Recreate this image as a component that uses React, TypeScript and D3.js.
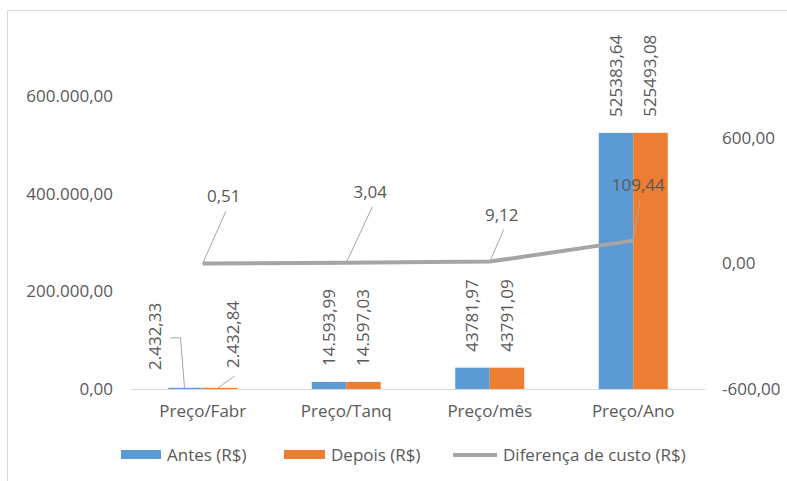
import React from "react";
import * as d3 from "d3";

const categories = ["Preço/Fabr", "Preço/Tanq", "Preço/mês", "Preço/Ano"];
const antes = [2432.33, 14593.99, 43781.97, 525383.64];
const depois = [2432.84, 14597.03, 43791.09, 525493.08];
const diferenca = [0.51, 3.04, 9.12, 109.44];
const antesLabels = ["2.432,33", "14.593,99", "43781,97", "525383,64"];
const depoisLabels = ["2.432,84", "14.597,03", "43791,09", "525493,08"];
const difLabels = ["0,51", "3,04", "9,12", "109,44"];
const leftTicks = [0, 200000, 400000, 600000];
const leftTickLabels = ["0,00", "200.000,00", "400.000,00", "600.000,00"];
const rightTicks = [-600, 0, 600];
const rightTickLabels = ["-600,00", "0,00", "600,00"];
const seriesNames = ["Antes (R$)", "Depois (R$)", "Diferença de custo (R$)"];

const W = 787;
const H = 481;
const BLUE = "#5B9BD5";
const ORANGE = "#ED7D31";
const GRAY = "#A5A5A5";
const TXT = "#595959";
const FONT = "'Open Sans', sans-serif";
const FS = 17;

// label offsets (layout) for line labels relative to point: [dx, dy baseline]
const difLabelOffsets = [
  [21, -61],
  [24, -65],
  [12, -41],
  [5, -50],
];

export default function App() {
  const x = d3.scaleBand<string>().domain(categories).range([131, 705]).paddingInner(0).paddingOuter(0);
  const yL = d3.scaleLinear().domain([0, 600000]).range([389, 96.5]);
  const yR = d3.scaleLinear().domain([-600, 600]).range([389, 138]);
  const bw = 34.5;
  const sub = d3.scaleBand<number>().domain([0, 1]).range([-bw, bw]).padding(0);
  const cx = (c: string) => (x(c) as number) + x.bandwidth() / 2;

  const line = d3
    .line<number>()
    .x((_, i) => cx(categories[i]))
    .y((d) => yR(d));

  const barLabel = (i: number, s: number, label: string, val: number) => {
    const bx = cx(categories[i]) + (sub(s) as number) + sub.bandwidth() / 2;
    const top = yL(val);
    if (i === 0) {
      // displaced labels with leader lines
      const lx = s === 0 ? bx - 30 : bx + 13;
      const ly = s === 0 ? 370 : 368;
      const leader =
        s === 0
          ? `M${bx - 15},${top - 50} L${bx - 5},${top - 50} L${bx - 1},${top}`
          : `M${bx + 15},${top - 12} L${bx - 2},${top}`;
      return (
        <g key={`bl-${i}-${s}`}>
          <path d={leader} fill="none" stroke="#a6a6a6" strokeWidth={1} />
          <text
            transform={`translate(${lx},${ly}) rotate(-90)`}
            dy="0.35em"
            fill={TXT}
            fontSize={FS}
            fontFamily={FONT}
          >
            {label}
          </text>
        </g>
      );
    }
    return (
      <text
        key={`bl-${i}-${s}`}
        transform={`translate(${bx},${top - 16}) rotate(-90)`}
        dy="0.35em"
        fill={TXT}
        fontSize={FS}
        fontFamily={FONT}
      >
        {label}
      </text>
    );
  };

  return (
    <svg
      width={W}
      height={H}
      style={{ position: "absolute", left: 0, top: 0, background: "#fff" }}
    >
      <rect x={0} y={0} width={W} height={H} fill="#fff" />
      <path d={`M7.5,${H} L7.5,10.5 L${W},10.5`} fill="none" stroke="#d9d9d9" strokeWidth={1} />

      {/* left axis labels */}
      {leftTicks.map((t, i) => (
        <text
          key={`lt${i}`}
          x={113}
          y={yL(t)}
          dy="0.35em"
          textAnchor="end"
          fill={TXT}
          fontSize={FS}
          fontFamily={FONT}
        >
          {leftTickLabels[i]}
        </text>
      ))}
      {/* right axis labels */}
      {rightTicks.map((t, i) => (
        <text
          key={`rt${i}`}
          x={722}
          y={yR(t)}
          dy="0.35em"
          textAnchor="start"
          fill={TXT}
          fontSize={FS}
          fontFamily={FONT}
        >
          {rightTickLabels[i]}
        </text>
      ))}

      {/* bars */}
      {categories.map((c, i) => (
        <g key={`bars${i}`}>
          {[antes[i], depois[i]].map((v, s) => (
            <rect
              key={s}
              x={cx(c) + (sub(s) as number)}
              y={yL(v)}
              width={sub.bandwidth()}
              height={yL(0) - yL(v)}
              fill={s === 0 ? BLUE : ORANGE}
            />
          ))}
        </g>
      ))}

      {/* baseline */}
      <line x1={131} x2={705} y1={yL(0) + 0.5} y2={yL(0) + 0.5} stroke="#d9d9d9" strokeWidth={1} />

      {/* category labels */}
      {categories.map((c, i) => (
        <text
          key={`cat${i}`}
          x={cx(c)}
          y={411}
          dy="0.35em"
          textAnchor="middle"
          fill={TXT}
          fontSize={FS}
          fontFamily={FONT}
        >
          {c}
        </text>
      ))}

      {/* bar labels */}
      {categories.map((_, i) => (
        <g key={`bls${i}`}>
          {barLabel(i, 0, antesLabels[i], antes[i])}
          {barLabel(i, 1, depoisLabels[i], depois[i])}
        </g>
      ))}

      {/* line */}
      <path d={line(diferenca) || ""} fill="none" stroke={GRAY} strokeWidth={4} strokeLinejoin="round" />

      {/* line labels with leaders */}
      {diferenca.map((v, i) => {
        const px = cx(categories[i]);
        const py = yR(v);
        const [dx, dy] = difLabelOffsets[i];
        const lx = px + dx;
        const ly = py + dy;
        return (
          <g key={`dl${i}`}>
            <line x1={lx + 2} y1={ly + 9} x2={px} y2={py} stroke="#a6a6a6" strokeWidth={1} />
            <text x={lx} y={ly} textAnchor="middle" fill={TXT} fontSize={FS} fontFamily={FONT}>
              {difLabels[i]}
            </text>
          </g>
        );
      })}

      {/* legend */}
      <rect x={121} y={450} width={40} height={9} fill={BLUE} />
      <text x={167} y={455} dy="0.35em" fill={TXT} fontSize={FS} fontFamily={FONT}>
        {seriesNames[0]}
      </text>
      <rect x={284} y={450} width={41} height={9} fill={ORANGE} />
      <text x={331} y={455} dy="0.35em" fill={TXT} fontSize={FS} fontFamily={FONT}>
        {seriesNames[1]}
      </text>
      <line x1={453} x2={497} y1={455} y2={455} stroke={GRAY} strokeWidth={4} />
      <text x={503} y={455} dy="0.35em" fill={TXT} fontSize={FS} fontFamily={FONT}>
        {seriesNames[2]}
      </text>
    </svg>
  );
}
